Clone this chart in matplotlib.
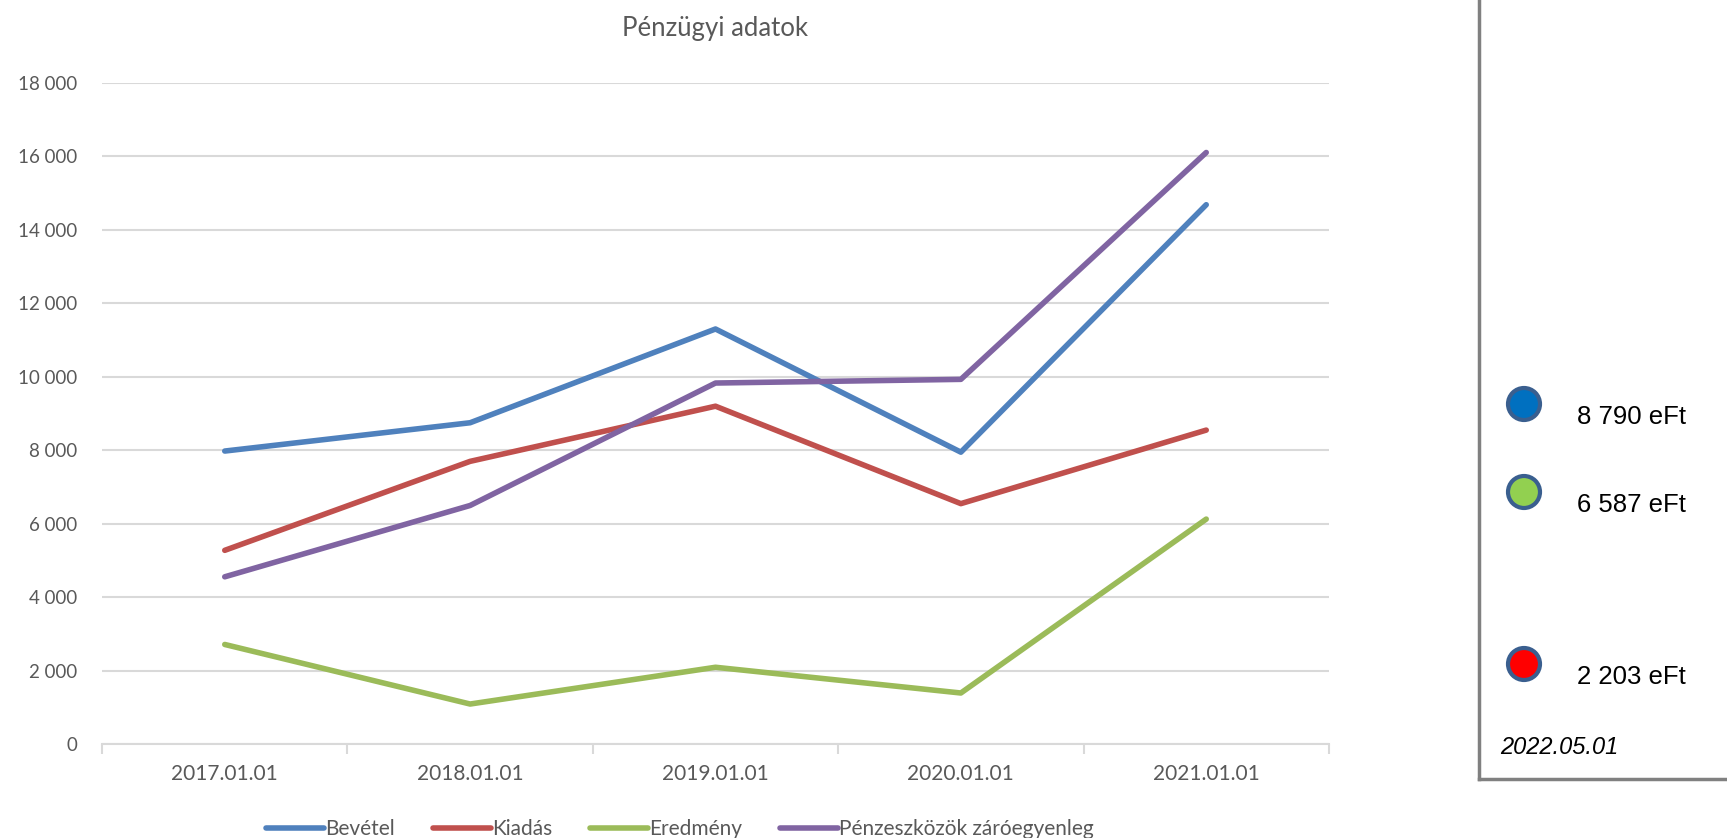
import matplotlib.pyplot as plt
from matplotlib.patches import Ellipse
from matplotlib.ticker import FuncFormatter

# Pénzügyi adatok - line chart with a side panel of summary values

DATES = ["2017.01.01", "2018.01.01", "2019.01.01", "2020.01.01", "2021.01.01"]

BEVETEL = [7980, 8750, 11300, 7950, 14680]
KIADAS = [5280, 7700, 9200, 6550, 8550]
EREDMENY = [2720, 1100, 2100, 1400, 6130]
PENZESZKOZ = [4560, 6500, 9830, 9930, 16100]

SERIES_NAMES = ["Bevétel", "Kiadás", "Eredmény", "Pénzeszközök záróegyenleg"]
SERIES_COLORS = ["#4f81bd", "#c0504d", "#9bbb59", "#8064a2"]

PANEL_VALUES = ["8 790 eFt", "6 587 eFt", "2 203 eFt"]
PANEL_COLORS = ["#0070c0", "#92d050", "#ff0000"]
PANEL_DATE = "2022.05.01"

plt.rcParams["font.family"] = ["Lato", "DejaVu Sans"]

fig = plt.figure(figsize=(17.27, 8.38), dpi=100)
ax = fig.add_axes([0.0591, 0.1116, 0.7104, 0.7898])

x = list(range(len(DATES)))
for values, name, color in zip([BEVETEL, KIADAS, EREDMENY, PENZESZKOZ], SERIES_NAMES, SERIES_COLORS):
    ax.plot(x, values, color=color, lw=4, label=name, solid_capstyle="round", solid_joinstyle="round", zorder=3)

ax.set_xlim(-0.5, len(DATES) - 0.5)
ax.set_ylim(0, 18000)
ax.set_yticks(range(0, 18001, 2000))
ax.yaxis.set_major_formatter(FuncFormatter(lambda v, p: f"{int(v):,}".replace(",", " ")))
ax.set_xticks(x)
ax.set_xticklabels(DATES)
ax.set_xticks([i - 0.5 for i in range(len(DATES) + 1)], minor=True)

ax.grid(axis="y", color="#d9d9d9", lw=1.5, zorder=0)
for side in ["top", "right", "left"]:
    ax.spines[side].set_visible(False)
ax.spines["bottom"].set_color("#d9d9d9")
ax.spines["bottom"].set_linewidth(1.5)
ax.tick_params(axis="y", length=0, labelsize=13.5, labelcolor="#595959", pad=18)
ax.tick_params(axis="x", which="major", length=0, labelsize=15, labelcolor="#595959", pad=14)
ax.tick_params(axis="x", which="minor", length=7, color="#d9d9d9", width=1.5)

fig.text(0.414, 0.966, "Pénzügyi adatok", ha="center", va="center", fontsize=18.5, color="#595959")

ax.legend(loc="upper center", bbox_to_anchor=(0.471, -0.085), ncol=4, frameon=False,
          fontsize=15, labelcolor="#595959", handlelength=2.8, handletextpad=0.05,
          columnspacing=1.8)

# side panel
fig.add_artist(plt.Line2D([1479 / 1727, 1479 / 1727], [1.0, 1 - 779 / 838], color="#808080", lw=2.5,
                          transform=fig.transFigure))
fig.add_artist(plt.Line2D([1479 / 1727, 1.0], [1 - 779 / 838, 1 - 779 / 838], color="#808080", lw=2.5,
                          transform=fig.transFigure))

panel_y = [404, 492, 664]
for yy, label, color in zip(panel_y, PANEL_VALUES, PANEL_COLORS):
    yf = 1 - yy / 838
    fig.add_artist(Ellipse((1524 / 1727, yf), 32 / 1727, 32 / 838, transform=fig.transFigure,
                           facecolor=color, edgecolor="#3a5f8f", lw=3))
    fig.text(1577 / 1727, yf - 0.016, label, ha="left", va="center", fontsize=18.5,
             family="Liberation Sans", color="black")

fig.text(1500 / 1727, 1 - 747 / 838, PANEL_DATE, ha="left", va="center", fontsize=17,
         family="Liberation Sans", style="italic", color="black")

fig.savefig("out.png", dpi=100)
